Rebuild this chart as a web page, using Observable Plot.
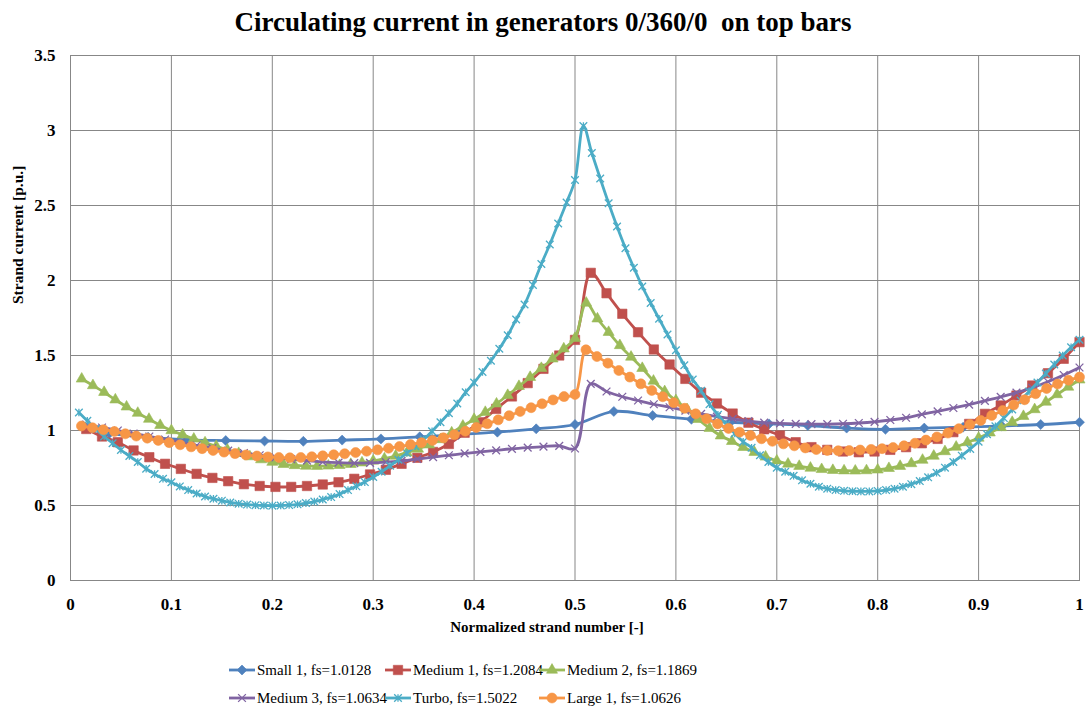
<!DOCTYPE html>
<html><head><meta charset="utf-8">
<script src="https://cdn.jsdelivr.net/npm/d3@7"></script>
<script src="https://cdn.jsdelivr.net/npm/@observablehq/plot@0.6"></script>
<style>
html,body{margin:0;padding:0;background:#fff;}
#wrap{position:relative;width:1086px;height:709px;overflow:hidden;font-family:"Liberation Serif","Times New Roman",serif;color:#000;}
#title{position:absolute;left:0;top:4px;width:1086px;text-align:center;font-weight:bold;font-size:27px;white-space:pre;line-height:36px;font-family:"Liberation Serif",serif;}
#chart{position:absolute;left:0;top:40px;}
.leg{position:absolute;font-family:"Liberation Serif",serif;font-size:15px;white-space:nowrap;display:flex;align-items:center;height:20px;}
.leg svg{display:block;margin-right:1px;}
</style></head><body>
<div id="wrap"><div id="title"></div><div id="chart"></div><div id="legend"></div></div>
<script>
const title = "Circulating current in generators 0/360/0  on top bars";
const xLabel = "Normalized strand number [-]";
const yLabel = "Strand current [p.u.]";
const xTicks = [0, 0.1, 0.2, 0.3, 0.4, 0.5, 0.6, 0.7, 0.8, 0.9, 1];
const yTicks = [0, 0.5, 1, 1.5, 2, 2.5, 3, 3.5];

const seriesNames = ["Small 1, fs=1.0128", "Medium 1, fs=1.2084", "Medium 2, fs=1.1869",
  "Medium 3, fs=1.0634", "Turbo, fs=1.5022", "Large 1, fs=1.0626"];
const seriesColors = ["#4F81BD", "#C0504D", "#9BBB59", "#8064A2", "#4BACC6", "#F79646"];
// number of strands in each generator (x = strand index / count)
const strandCounts = [26, 64, 90, 64, 120, 92];

const small1 = [0.98,0.955,0.937,0.933,0.93,0.928,0.936,0.944,0.958,0.973,0.989,1.011,1.04,1.127,1.10,1.075,1.055,1.044,1.033,1.016,1.008,1.016,1.022,1.03,1.04,1.055];
const medium1 = [1.01,0.96,0.922,0.867,0.822,0.778,0.744,0.711,0.684,0.662,0.642,0.63,0.624,0.624,0.63,0.64,0.655,0.678,0.707,0.738,0.778,0.818,0.857,0.91,0.985,1.055,1.144,1.227,1.316,1.411,1.5,1.604,2.051,1.915,1.778,1.655,1.54,1.44,1.344,1.252,1.18,1.113,1.052,1.008,0.967,0.922,0.889,0.871,0.86,0.855,0.86,0.871,0.889,0.915,0.944,0.989,1.044,1.111,1.167,1.233,1.3,1.382,1.478,1.589];
const medium2 = [1.344,1.3,1.255,1.205,1.158,1.116,1.076,1.035,1.0,0.971,0.944,0.919,0.895,0.87,0.848,0.826,0.806,0.789,0.775,
  0.767,0.763,0.762,0.764,0.768,0.775,0.785,0.797,0.812,0.83,0.852,0.877,0.905,0.94,0.985,1.03,
  1.075,1.122,1.178,1.235,1.295,1.355,1.415,1.478,1.545,1.615,1.85,1.745,1.655,1.567,1.49,1.415,
  1.33,1.26,1.2,1.14,1.075,1.015,0.965,0.928,0.888,0.855,0.824,0.798,0.777,0.762,0.75,0.741,0.735,0.732,0.731,0.733,0.738,0.748,0.762,0.78,0.803,0.83,0.86,0.89,0.92,0.95,0.985,1.02,1.055,1.095,1.14,1.19,1.24,1.29,1.338];
const medium3 = [1.04,1.02,1.0,0.98,0.96,0.94,0.92,0.90,0.882,0.866,0.85,0.835,0.821,0.809,0.799,0.791,0.786,0.783,0.784,0.789,0.798,0.81,0.823,0.835,0.847,0.858,0.868,0.878,0.886,0.893,0.898,0.88,
  1.311,1.26,1.225,1.2,1.175,1.155,1.133,1.111,1.093,1.078,1.062,1.052,1.047,1.044,1.043,1.043,1.045,1.05,1.058,1.07,1.085,1.108,1.128,1.15,1.173,1.198,1.224,1.253,1.285,1.325,1.37,1.42];
const turbo = [1.12,1.065,1.01,0.96,0.915,0.87,0.83,0.79,0.745,0.71,0.678,0.655,0.627,0.603,0.58,0.56,0.545,0.532,0.52,0.512,0.506,0.502,0.5,0.499,0.5,0.503,0.508,0.516,0.526,0.54,0.556,0.576,0.603,0.628,0.656,0.69,0.725,0.765,0.805,0.85,0.895,0.94,0.995,1.055,1.115,1.18,1.255,1.32,1.39,1.465,1.545,1.635,1.74,1.84,1.97,2.11,2.24,2.38,2.52,2.67,3.03,
  2.85,2.68,2.515,2.36,2.215,2.085,1.96,1.85,1.745,1.64,1.535,1.435,1.34,1.265,1.175,1.105,1.04,0.98,0.925,0.885,0.835,0.79,0.752,0.725,0.698,0.668,0.645,0.625,0.612,0.603,0.598,0.595,0.594,0.594,0.597,0.603,0.612,0.625,0.642,0.663,0.688,0.718,0.752,0.79,0.832,0.877,0.925,0.975,1.028,1.083,1.14,1.2,1.26,1.32,1.38,1.44,1.5,1.555,1.605];
const large1 = [1.03,1.018,1.005,0.993,0.978,0.963,0.949,0.934,0.919,0.905,0.891,0.879,0.867,0.856,0.846,0.837,0.83,0.824,0.82,0.818,
  0.82,0.825,0.831,0.838,0.845,0.853,0.862,0.871,0.882,0.893,0.906,0.919,0.934,0.951,0.972,0.995,1.02,1.045,1.071,1.099,1.127,1.152,1.178,1.204,1.226,1.24,
  1.538,1.493,1.449,1.4,1.356,1.311,1.267,1.225,1.185,1.148,1.111,1.078,1.044,1.014,0.989,0.967,0.945,0.928,0.911,0.898,0.884,0.873,0.867,0.865,0.866,0.87,0.874,0.879,0.886,0.898,0.915,0.936,0.957,0.983,1.012,1.04,1.067,1.1,1.133,1.17,1.205,1.245,1.28,1.31,1.335,1.356];

const seriesValues = [small1, medium1, medium2, medium3, turbo, large1];

// marker symbols
const starSymbol = {draw(ctx, size) {
  const r = Math.sqrt(size) * 0.5;
  ctx.moveTo(0, -r); ctx.lineTo(0, r);
  ctx.moveTo(-r, -r); ctx.lineTo(r, r);
  ctx.moveTo(-r, r); ctx.lineTo(r, -r);
}};
const markerStyles = [
  {symbol: d3.symbolDiamond2, r: 4.5, filled: true},
  {symbol: d3.symbolSquare, r: 5.3, filled: true},
  {symbol: d3.symbolTriangle, r: 4.1, filled: true},
  {symbol: d3.symbolTimes, r: 3.6, filled: false},
  {symbol: starSymbol, r: 4.3, filled: false},
  {symbol: d3.symbolCircle, r: 5.0, filled: true}
];

document.getElementById("title").textContent = title;

const marks = [
  Plot.gridX(xTicks, {stroke: "#878787", strokeOpacity: 1, strokeWidth: 1}),
  Plot.gridY(yTicks, {stroke: "#878787", strokeOpacity: 1, strokeWidth: 1}),
  Plot.frame({stroke: "#878787", strokeWidth: 1}),
  Plot.axisX(xTicks, {tickSize: 0, tickPadding: 17, tickFormat: d => String(d), label: null, fontSize: 17, fontWeight: "bold"}),
  Plot.axisY(yTicks, {tickSize: 0, tickPadding: 15, tickFormat: d => String(d), label: null, fontSize: 17, fontWeight: "bold"}),
  Plot.text([yLabel], {frameAnchor: "left", rotate: -90, dx: -52, dy: -14, fontSize: 15.5, fontWeight: "bold"}),
  Plot.text([xLabel], {frameAnchor: "bottom", dy: 51, dx: -28, fontSize: 15, fontWeight: "bold"})
];

seriesValues.forEach((vals, s) => {
  const n = strandCounts[s];
  const rows = vals.map((v, k) => ({x: (k + 1) / n, y: v}));
  const color = seriesColors[s];
  const m = markerStyles[s];
  marks.push(Plot.line(rows, {x: "x", y: "y", stroke: color, strokeWidth: 2.8, curve: "catmull-rom"}));
  marks.push(Plot.dot(rows, m.filled
    ? {x: "x", y: "y", symbol: m.symbol, r: m.r, fill: color, stroke: color, strokeWidth: 0.6}
    : {x: "x", y: "y", symbol: m.symbol, r: m.r, fill: "none", stroke: color, strokeWidth: 1.3}));
});

const chart = Plot.plot({
  width: 1086, height: 600,
  marginTop: 15, marginBottom: 60, marginLeft: 70, marginRight: 7,
  x: {domain: [0, 1]},
  y: {domain: [0, 3.5]},
  style: {fontFamily: "Liberation Serif, serif", color: "#000", background: "#fff", overflow: "visible"},
  marks
});
document.getElementById("chart").appendChild(chart);

// legend (two rows of three entries)
const legend = document.getElementById("legend");
const colX = [228, 384, 538];
const rowY = [660, 688];
seriesNames.forEach((name, s) => {
  const div = document.createElement("div");
  div.className = "leg";
  div.style.left = colX[s % 3] + "px";
  div.style.top = rowY[Math.floor(s / 3)] + "px";
  const svg = d3.create("svg").attr("width", 28).attr("height", 14);
  svg.append("line").attr("x1", 1).attr("x2", 27).attr("y1", 7).attr("y2", 7)
    .attr("stroke", seriesColors[s]).attr("stroke-width", 2.8);
  const m = markerStyles[s];
  const size = Math.PI * m.r * m.r;
  svg.append("path").attr("transform", "translate(14,7)")
    .attr("d", d3.symbol(m.symbol, size)())
    .attr("fill", m.filled ? seriesColors[s] : "none")
    .attr("stroke", seriesColors[s]).attr("stroke-width", m.filled ? 0.6 : 1.3);
  div.appendChild(svg.node());
  const span = document.createElement("span");
  span.textContent = name;
  div.appendChild(span);
  legend.appendChild(div);
});
</script>
</body></html>
